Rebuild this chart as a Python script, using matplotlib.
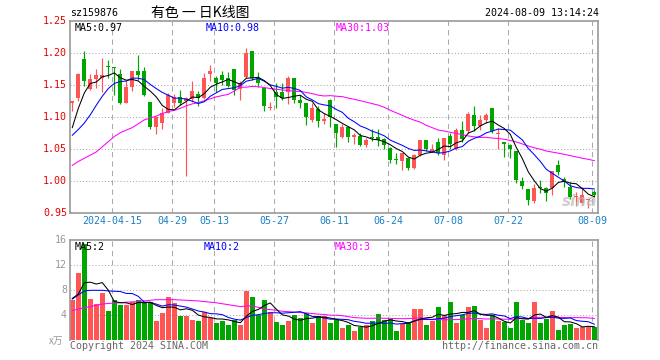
import matplotlib
matplotlib.use('Agg')
import matplotlib.pyplot as plt
import numpy as np
import pandas as pd

# ---------------- data ----------------
tick_labels = ['2024-04-15', '04-29', '05-13', '05-27', '06-11', '06-24', '07-08', '07-22', '08-09']
tick_index = [7, 17, 24, 34, 44, 53, 63, 73, 87]

opens = [1.122, 1.129, 1.190, 1.143, 1.159, 1.160, 1.178, 1.177, 1.166, 1.122,
         1.147, 1.171, 1.171, 1.123, 1.084, 1.090, 1.106, 1.122, 1.130, 1.124,
         1.127, 1.135, 1.129, 1.167, 1.161, 1.165, 1.160, 1.174, 1.143, 1.162,
         1.203, 1.161, 1.145, 1.113, 1.139, 1.139, 1.139, 1.160, 1.126, 1.121,
         1.095, 1.112, 1.094, 1.126, 1.088, 1.068, 1.084, 1.069, 1.070, 1.056,
         1.068, 1.068, 1.065, 1.051, 1.034, 1.031, 1.036, 1.020, 1.040, 1.063,
         1.046, 1.061, 1.040, 1.070, 1.050, 1.079, 1.077, 1.103, 1.085, 1.095,
         1.113, 1.073, 1.061, 1.056, 1.046, 0.999, 0.987, 0.969, 0.990, 0.988,
         0.989, 1.024, 1.002, 0.990, 0.974, 0.965, 0.970, 0.982]
highs = [1.125, 1.168, 1.203, 1.167, 1.174, 1.191, 1.188, 1.178, 1.175, 1.155,
         1.172, 1.197, 1.178, 1.123, 1.101, 1.113, 1.137, 1.136, 1.142, 1.130,
         1.155, 1.140, 1.168, 1.181, 1.164, 1.172, 1.170, 1.175, 1.155, 1.207,
         1.203, 1.170, 1.147, 1.123, 1.152, 1.153, 1.164, 1.160, 1.134, 1.122,
         1.121, 1.116, 1.105, 1.127, 1.089, 1.088, 1.085, 1.074, 1.074, 1.066,
         1.080, 1.080, 1.066, 1.052, 1.044, 1.044, 1.037, 1.041, 1.064, 1.064,
         1.058, 1.066, 1.066, 1.074, 1.082, 1.093, 1.108, 1.116, 1.103, 1.106,
         1.113, 1.082, 1.061, 1.057, 1.046, 1.005, 0.987, 0.995, 1.001, 0.990,
         1.015, 1.032, 1.005, 0.998, 0.983, 0.990, 0.972, 0.986]
lows = [1.109, 1.124, 1.148, 1.141, 1.145, 1.139, 1.160, 1.134, 1.120, 1.121,
        1.140, 1.158, 1.133, 1.081, 1.073, 1.080, 1.105, 1.115, 1.118, 1.008,
        1.123, 1.116, 1.127, 1.155, 1.139, 1.150, 1.147, 1.134, 1.126, 1.160,
        1.157, 1.147, 1.109, 1.110, 1.113, 1.126, 1.120, 1.122, 1.113, 1.087,
        1.092, 1.084, 1.088, 1.084, 1.052, 1.066, 1.060, 1.058, 1.054, 1.052,
        1.062, 1.054, 1.050, 1.028, 1.026, 1.016, 1.017, 1.019, 1.038, 1.047,
        1.045, 1.040, 1.032, 1.050, 1.048, 1.060, 1.075, 1.078, 1.079, 1.090,
        1.074, 1.050, 1.037, 1.036, 0.997, 0.987, 0.962, 0.965, 0.981, 0.969,
        0.978, 1.009, 0.990, 0.971, 0.961, 0.962, 0.957, 0.975]
closes = [1.124, 1.167, 1.156, 1.159, 1.165, 1.165, 1.177, 1.176, 1.121, 1.146,
          1.171, 1.165, 1.134, 1.084, 1.100, 1.105, 1.134, 1.130, 1.121, 1.129,
          1.140, 1.129, 1.161, 1.171, 1.153, 1.158, 1.148, 1.142, 1.153, 1.200,
          1.160, 1.153, 1.116, 1.114, 1.131, 1.129, 1.160, 1.126, 1.122, 1.099,
          1.113, 1.094, 1.096, 1.100, 1.074, 1.084, 1.068, 1.071, 1.056, 1.063,
          1.066, 1.063, 1.056, 1.033, 1.033, 1.043, 1.020, 1.040, 1.063, 1.049,
          1.050, 1.043, 1.066, 1.058, 1.079, 1.065, 1.104, 1.085, 1.095, 1.103,
          1.078, 1.074, 1.058, 1.049, 1.001, 0.991, 0.970, 0.988, 0.989, 0.980,
          1.015, 1.014, 0.998, 0.974, 0.975, 0.977, 0.971, 0.978]
volumes = [6.45, 10.8, 15.4, 6.6, 5.76, 7.6, 4.7, 6.4, 5.65, 5.65,
           6.2, 6.4, 6.1, 6.1, 3.1, 4.4, 6.9, 6.0, 3.95, 3.95,
           3.25, 3.1, 4.5, 3.5, 2.8, 3.1, 2.45, 3.25, 2.45, 7.9,
           7.0, 4.05, 6.45, 4.5, 2.9, 2.45, 3.1, 4.05, 3.5, 4.3,
           2.8, 3.95, 3.95, 2.8, 3.2, 1.9, 2.45, 1.5, 2.2, 2.45,
           3.1, 4.2, 3.25, 3.4, 1.5, 2.65, 2.9, 5.0, 5.0, 2.45,
           3.1, 5.3, 4.05, 6.1, 2.8, 4.05, 5.3, 5.5, 3.25, 1.9,
           4.05, 3.1, 2.9, 1.9, 6.1, 3.25, 2.8, 6.1, 2.8, 3.35,
           4.7, 1.6, 2.45, 2.6, 1.95, 2.1, 2.1, 2.1]

# moving-average values before enough in-window history exists
ma5_head = [1.083, 1.113, 1.137, 1.152]
ma10_head = [1.071, 1.080, 1.090, 1.103, 1.118, 1.132, 1.144, 1.152, 1.155]
ma30_head = [1.024, 1.030, 1.035, 1.040, 1.045, 1.053, 1.061, 1.069, 1.075, 1.079,
             1.083, 1.089, 1.095, 1.098, 1.101, 1.105, 1.108, 1.110, 1.113, 1.117,
             1.120, 1.122, 1.125, 1.128, 1.131, 1.133, 1.135, 1.140, 1.146]
vma5_head = [6.7, 7.4, 9.2, 9.3]
vma10_head = [6.6, 7.25, 7.9, 8.0, 8.0, 8.0, 7.9, 7.85, 7.8]
vma30_head = [4.75, 5.0, 5.2, 5.4, 5.6, 5.8, 5.9, 5.95, 6.0, 6.1,
              6.15, 6.2, 6.3, 6.4, 6.5, 6.5, 6.5, 6.5, 6.45, 6.4,
              6.35, 6.3, 6.2, 6.1, 6.0, 5.85, 5.7, 5.55, 5.4]

price_ticks = [1.25, 1.20, 1.15, 1.10, 1.05, 1.00, 0.95]
vol_ticks = [16, 12, 8, 4]

title_code = 'sz159876'
title_main = '有色 一 日K线图'
title_time = '2024-08-09 13:14:24'
price_legend = ['MA5:0.97', 'MA10:0.98', 'MA30:1.03']
vol_legend = ['MA5:2', 'MA10:2', 'MA30:3']

# ---------------- derived ----------------
o = np.array(opens); h = np.array(highs); l = np.array(lows); c = np.array(closes)
v = np.array(volumes)
n = len(c)
x = np.arange(n)


def ma(series, w, head):
    m = pd.Series(series).rolling(w).mean().to_numpy()
    m[:len(head)] = head
    return m


ma5 = ma(c, 5, ma5_head); ma10 = ma(c, 10, ma10_head); ma30 = ma(c, 30, ma30_head)
vma5 = ma(v, 5, vma5_head); vma10 = ma(v, 10, vma10_head); vma30 = ma(v, 30, vma30_head)

RED = '#FF5555'
GREEN = '#00A600'
GRID = '#AAAAAA'
SPINE = '#999999'
MONO = 'DejaVu Sans Mono'
FS = 7.2
LW = 0.75

up = c >= o
col = np.where(up, RED, GREEN)

W, H = 660, 360
fig = plt.figure(figsize=(W / 100, H / 100), dpi=100)
fig.patch.set_facecolor('white')


def fr(left, top, right, bottom):
    return [left / W, 1 - bottom / H, (right - left) / W, (bottom - top) / H]


def ftxt(px, py, s, **kw):
    fig.text(px / W, 1 - py / H, s, **kw)


axp = fig.add_axes(fr(70, 20.7, 598, 212.7))
axv = fig.add_axes(fr(70, 240.3, 598, 340.3))
xl = (-0.383, 87.617)

for ax in (axp, axv):
    ax.set_xlim(*xl)
    ax.set_xticks([]); ax.set_yticks([])
    for s in ax.spines.values():
        s.set_color(SPINE); s.set_linewidth(1.2)
    for ti in tick_index:
        ax.axvline(ti - 0.33, color=GRID, lw=0.75, ls=(0, (5, 4)), zorder=0)
axv.spines['bottom'].set_visible(False)

axp.set_ylim(0.95, 1.25)
axv.set_ylim(0, 16)
for p in price_ticks[1:-1]:
    axp.axhline(p, color=GRID, lw=0.75, ls=(0, (1, 2)), zorder=0)
for q in vol_ticks[1:]:
    axv.axhline(q, color=GRID, lw=0.75, ls=(0, (1, 2)), zorder=0)

# candles
axp.vlines(x, l, h, colors=col, lw=0.85, zorder=2)
body_lo = np.minimum(o, c)
body_h = np.maximum(np.abs(c - o), 0.0016)
axp.bar(x, body_h, bottom=body_lo, width=0.72, color=col, linewidth=0, zorder=3)

axp.plot(x, ma30, color='#FF00FF', lw=LW, zorder=4)
axp.plot(x, ma10, color='#0000FF', lw=LW, zorder=4)
axp.plot(x, ma5, color='black', lw=LW, zorder=4)

# volume
axv.bar(x, v, width=0.83, color=col, linewidth=0, zorder=2)
axv.plot(x, vma30, color='#FF00FF', lw=LW, zorder=4)
axv.plot(x, vma10, color='#0000FF', lw=LW, zorder=4)
axv.plot(x, vma5, color='black', lw=LW, zorder=4)

# watermark
axp.text(84.5, 0.968, 'sina', fontsize=11, fontweight='bold', style='italic',
         color='#BBBBBB', alpha=0.7, ha='center', va='center', zorder=5, family='DejaVu Sans')

# texts
ftxt(70, 13, title_code, family=MONO, fontsize=FS, va='center', ha='left')
ftxt(151, 13, title_main, family=['Noto Sans CJK SC', 'DejaVu Sans'], fontsize=10,
     va='center', ha='left')
ftxt(599, 13, title_time, family=MONO, fontsize=FS, va='center', ha='right')

leg_x = [75, 206, 336]
leg_c = ['black', '#0000FF', '#FF00FF']
vleg_x = [75, 204, 335]
for s, px, cc in zip(price_legend, leg_x, leg_c):
    ftxt(px, 28, s, family=MONO, fontsize=FS, va='center', ha='left', color=cc)
for s, px, cc in zip(vol_legend, vleg_x, leg_c):
    ftxt(px, 247, s, family=MONO, fontsize=FS, va='center', ha='left', color=cc)

for p in price_ticks:
    py = 212.7 - (p - 0.95) * 640
    ftxt(67, py, f'{p:.2f}', family=MONO, fontsize=FS, va='center', ha='right', color='#E80000')
for q in vol_ticks:
    py = 340.3 - q * 6.25
    ftxt(67, py, str(q), family=MONO, fontsize=FS, va='center', ha='right', color='#999999')
ftxt(63, 341, 'x万', family=['Noto Sans CJK SC', 'DejaVu Sans'], fontsize=7,
     va='center', ha='right', color='#999999')

for lab, ti in zip(tick_labels, tick_index):
    px = 72.3 + 6 * ti - 2
    ftxt(px, 221, lab, family=MONO, fontsize=FS, va='center', ha='center', color='#1A80C8')

ftxt(69.5, 346, 'Copyright 2024 SINA.COM', family=MONO, fontsize=FS, va='center',
     ha='left', color='#666666')
ftxt(598, 346, 'http://finance.sina.com.cn', family=MONO, fontsize=FS, va='center',
     ha='right', color='#666666')

fig.savefig('out.png', dpi=100, facecolor='white')
